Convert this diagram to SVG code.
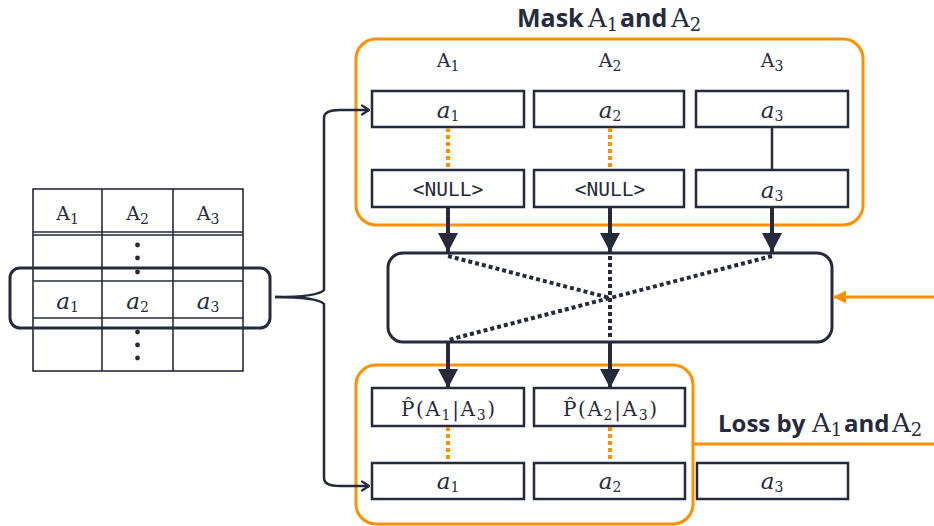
<svg xmlns="http://www.w3.org/2000/svg" width="934" height="526" viewBox="0 0 934 526">
<style>
.d{fill:none;stroke:#262A3C;stroke-width:2.5}
.o{fill:none;stroke:#FF9100;stroke-width:3}
.tl{stroke:#262A3C;stroke-width:1.6;fill:none}
.od{stroke:#FF9100;stroke-width:4;stroke-dasharray:4 3;fill:none}
.kd{stroke:#262A3C;stroke-width:4;stroke-dasharray:4 3;fill:none}
.ar{stroke:#262A3C;stroke-width:4;fill:none}
.m{font-family:"DejaVu Serif","Liberation Serif",serif;fill:#262A3C;text-anchor:middle}
.mono{font-family:"DejaVu Sans Mono","Liberation Mono",monospace;font-size:19.5px;fill:#262A3C;text-anchor:middle}
.b{font-family:"Open Sans","Noto Sans",sans-serif;font-weight:bold;font-size:25px;fill:#262A3C}
.t{font-family:"DejaVu Serif","Liberation Serif",serif;fill:#262A3C}
</style>
<defs>
<marker id="tri" markerWidth="20" markerHeight="20" refX="19" refY="10" orient="auto" markerUnits="userSpaceOnUse" viewBox="0 0 20 20">
<path d="M0,0 L19,10 L0,20 Z" fill="#262A3C"/>
</marker>
<marker id="otri" markerWidth="13" markerHeight="13" refX="13" refY="6.5" markerUnits="userSpaceOnUse" viewBox="0 0 13 13" orient="auto">
<path d="M0,0 L13,6.5 L0,13 Z" fill="#FF9100"/>
</marker>
<marker id="chev" markerWidth="12" markerHeight="12" refX="9" refY="6" markerUnits="userSpaceOnUse" viewBox="0 0 12 12" orient="auto">
<path d="M2,1.5 L9,6 L2,10.5" fill="none" stroke="#262A3C" stroke-width="2.2" stroke-linecap="round" stroke-linejoin="round"/>
</marker>
</defs>

<g id="table">
<rect x="33" y="189" width="210" height="182" class="tl"/>
<line x1="102" y1="189" x2="102" y2="371" class="tl"/>
<line x1="173" y1="189" x2="173" y2="371" class="tl"/>
<line x1="33" y1="232" x2="243" y2="232" class="tl"/>
<line x1="33" y1="235" x2="243" y2="235" class="tl"/>
<line x1="33" y1="281" x2="243" y2="281" class="tl"/>
<line x1="33" y1="318" x2="243" y2="318" class="tl"/>
<text class="m" x="67.5" y="220" font-size="19">A<tspan font-size="14" dy="4">1</tspan></text>
<text class="m" x="137.5" y="220" font-size="19">A<tspan font-size="14" dy="4">2</tspan></text>
<text class="m" x="208" y="220" font-size="19">A<tspan font-size="14" dy="4">3</tspan></text>
<text class="m" x="67.5" y="309"><tspan font-style="italic" font-size="23">a</tspan><tspan font-size="14" dy="3">1</tspan></text>
<text class="m" x="137.5" y="309"><tspan font-style="italic" font-size="23">a</tspan><tspan font-size="14" dy="3">2</tspan></text>
<text class="m" x="208" y="309"><tspan font-style="italic" font-size="23">a</tspan><tspan font-size="14" dy="3">3</tspan></text>
<g fill="#262A3C">
<circle cx="137.5" cy="245" r="2.4"/><circle cx="137.5" cy="258" r="2.4"/><circle cx="137.5" cy="272" r="2.4"/>
<circle cx="137.5" cy="332" r="2.4"/><circle cx="137.5" cy="345" r="2.4"/><circle cx="137.5" cy="358" r="2.4"/>
</g>
<rect x="10" y="268" width="260" height="60" rx="10" fill="none" stroke="#262A3C" stroke-width="3"/>
</g>

<g id="mask-group">
<rect x="356" y="39" width="507" height="186" rx="20" class="o"/>
<text class="b" x="517" y="27">Mask</text>
<text class="t" x="588" y="27" font-size="26">A<tspan font-size="18" dy="4">1</tspan></text>
<text class="b" x="620" y="27">and</text>
<text class="t" x="671" y="27" font-size="26">A<tspan font-size="18" dy="4">2</tspan></text>
<text class="m" x="448" y="67" font-size="19">A<tspan font-size="14" dy="4">1</tspan></text>
<text class="m" x="610" y="67" font-size="19">A<tspan font-size="14" dy="4">2</tspan></text>
<text class="m" x="772" y="67" font-size="19">A<tspan font-size="14" dy="4">3</tspan></text>
</g>

<g id="in-a1"><rect x="372" y="91" width="152" height="36" class="d"/>
<text class="m" x="448" y="118"><tspan font-style="italic" font-size="23">a</tspan><tspan font-size="14" dy="3">1</tspan></text></g>
<g id="in-a2"><rect x="534" y="91" width="150" height="36" class="d"/>
<text class="m" x="610" y="118"><tspan font-style="italic" font-size="23">a</tspan><tspan font-size="14" dy="3">2</tspan></text></g>
<g id="in-a3"><rect x="696" y="91" width="152" height="36" class="d"/>
<text class="m" x="772" y="118"><tspan font-style="italic" font-size="23">a</tspan><tspan font-size="14" dy="3">3</tspan></text></g>

<g id="null1"><rect x="372" y="170" width="152" height="37" class="d"/>
<text class="mono" x="448" y="196">&lt;NULL&gt;</text></g>
<g id="null2"><rect x="534" y="170" width="150" height="37" class="d"/>
<text class="mono" x="610" y="196">&lt;NULL&gt;</text></g>
<g id="keep-a3"><rect x="696" y="170" width="152" height="37" class="d"/>
<text class="m" x="772" y="198"><tspan font-style="italic" font-size="23">a</tspan><tspan font-size="14" dy="3">3</tspan></text></g>

<g id="model"><rect x="388" y="253" width="444" height="89" rx="15" fill="none" stroke="#262A3C" stroke-width="3"/></g>

<g id="loss-group">
<rect x="356" y="365" width="337" height="159" rx="20" class="o"/>
<text class="b" x="718" y="432" font-size="24" style="font-size:24px">Loss by</text>
<text class="t" x="812" y="432" font-size="26">A<tspan font-size="18" dy="4">1</tspan></text>
<text class="b" x="844" y="432" style="font-size:24px">and</text>
<text class="t" x="892" y="432" font-size="26">A<tspan font-size="18" dy="4">2</tspan></text>
</g>

<g id="p1"><rect x="372" y="388" width="152" height="38" class="d"/>
<text class="m" x="448" y="416" font-size="20" textLength="94" lengthAdjust="spacing">P̂(A<tspan font-size="14" dy="4">1</tspan><tspan dy="-4">|A</tspan><tspan font-size="14" dy="4">3</tspan><tspan dy="-4">)</tspan></text></g>
<g id="p2"><rect x="534" y="388" width="151" height="38" class="d"/>
<text class="m" x="610" y="416" font-size="20" textLength="94" lengthAdjust="spacing">P̂(A<tspan font-size="14" dy="4">2</tspan><tspan dy="-4">|A</tspan><tspan font-size="14" dy="4">3</tspan><tspan dy="-4">)</tspan></text></g>

<g id="out-a1"><rect x="372" y="463" width="152" height="36" class="d"/>
<text class="m" x="448" y="489"><tspan font-style="italic" font-size="23">a</tspan><tspan font-size="14" dy="3">1</tspan></text></g>
<g id="out-a2"><rect x="534" y="463" width="151" height="36" class="d"/>
<text class="m" x="610" y="489"><tspan font-style="italic" font-size="23">a</tspan><tspan font-size="14" dy="3">2</tspan></text></g>
<g id="out-a3"><rect x="697" y="463" width="151" height="36" class="d"/>
<text class="m" x="772" y="489"><tspan font-style="italic" font-size="23">a</tspan><tspan font-size="14" dy="3">3</tspan></text></g>

<g id="connectors">
<path d="M275,297 Q318,297 324,290 L324,118 Q324,110 340,110 L369,110" class="d" marker-end="url(#chev)"/>
<path d="M275,297 Q318,297 324,304 L324,478 Q324,486 340,486 L369,486" class="d" marker-end="url(#chev)"/>
<line x1="448" y1="128" x2="448" y2="169" class="od"/>
<line x1="610" y1="128" x2="610" y2="169" class="od"/>
<line x1="772" y1="127" x2="772" y2="170" class="d"/>
<line x1="448" y1="208" x2="448" y2="252" class="ar" marker-end="url(#tri)"/>
<line x1="610" y1="208" x2="610" y2="252" class="ar" marker-end="url(#tri)"/>
<line x1="772" y1="208" x2="772" y2="252" class="ar" marker-end="url(#tri)"/>
<line x1="448" y1="256" x2="610" y2="298" class="kd"/>
<line x1="772" y1="256" x2="448" y2="340" class="kd"/>
<line x1="610" y1="256" x2="610" y2="340" class="kd"/>
<line x1="448" y1="343" x2="448" y2="388" class="ar" marker-end="url(#tri)"/>
<line x1="610" y1="343" x2="610" y2="388" class="ar" marker-end="url(#tri)"/>
<line x1="448" y1="427" x2="448" y2="462" class="od"/>
<line x1="610" y1="427" x2="610" y2="462" class="od"/>
<line x1="934" y1="297" x2="833" y2="297" class="o" marker-end="url(#otri)"/>
<line x1="693" y1="444" x2="934" y2="444" class="o"/>
</g>
</svg>
